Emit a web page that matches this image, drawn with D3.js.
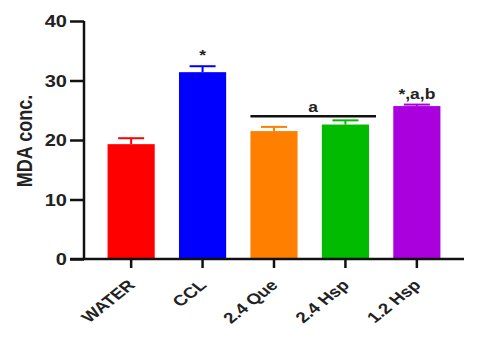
<!DOCTYPE html>
<html>
<head>
<meta charset="utf-8">
<script src="https://cdn.jsdelivr.net/npm/d3@7"></script>
<style>
  html, body { margin: 0; padding: 0; background: #fff; }
  svg { display: block; }
  text { font-family: "Liberation Sans", Arial, sans-serif; font-weight: bold; fill: #222; }
</style>
</head>
<body>
<svg id="chart" width="491" height="358"></svg>
<script>
// MDA concentration per treatment group (mean and upper SEM)
const groups = ["WATER", "CCL", "2.4 Que", "2.4 Hsp", "1.2 Hsp"];
const means = [19.3, 31.4, 21.5, 22.6, 25.7];
const sems = [1.0, 1.0, 0.7, 0.7, 0.25];
const colors = ["#ff0000", "#0000ff", "#ff8000", "#00bb00", "#aa00dd"];
const marks = ["", "*", "", "", "*,a,b"];
const yTicks = [0, 10, 20, 30, 40];

const svg = d3.select("#chart");
const plotLeft = 84, plotRight = 464, plotTop = 21, plotBottom = 259;
const wide = "scale(1.25,1)";   // text is drawn slightly widened

const x = d3.scaleBand().domain(groups).range([plotLeft, plotRight])
  .paddingInner(0.34).paddingOuter(0.33);
const y = d3.scaleLinear().domain([0, 40]).range([plotBottom, plotTop]);

// bars
svg.selectAll("rect.bar").data(groups).join("rect")
  .attr("class", "bar")
  .attr("x", d => x(d))
  .attr("width", x.bandwidth())
  .attr("y", (d, i) => y(means[i]))
  .attr("height", (d, i) => y(0) - y(means[i]))
  .attr("fill", (d, i) => colors[i]);

// upward error bars with significance marks
const capW = 26;
groups.forEach((g, i) => {
  const cx = x(g) + x.bandwidth() / 2;
  const yt = y(means[i] + sems[i]);
  svg.append("line")
    .attr("x1", cx).attr("x2", cx)
    .attr("y1", y(means[i])).attr("y2", yt)
    .attr("stroke", colors[i]).attr("stroke-width", 2);
  svg.append("line")
    .attr("x1", cx - capW / 2).attr("x2", cx + capW / 2)
    .attr("y1", yt).attr("y2", yt)
    .attr("stroke", colors[i]).attr("stroke-width", 2);
  if (marks[i]) {
    svg.append("text")
      .attr("transform", `translate(${cx},${yt - 6}) ${wide}`)
      .attr("text-anchor", "middle")
      .style("font-size", "14px")
      .text(marks[i]);
  }
});

// significance bracket over the two 2.4 mg groups
const bx1 = x("2.4 Que"), bx2 = x("2.4 Hsp") + x.bandwidth() + 7;
const by = y(24.0);
svg.append("line")
  .attr("x1", bx1).attr("x2", bx2).attr("y1", by).attr("y2", by)
  .attr("stroke", "#111").attr("stroke-width", 2.5);
svg.append("text")
  .attr("transform", `translate(${(bx1 + bx2) / 2},${by - 4}) ${wide}`)
  .attr("text-anchor", "middle")
  .style("font-size", "14px")
  .text("a");

// y axis
const yAxis = svg.append("g")
  .attr("transform", `translate(${plotLeft},0)`)
  .call(d3.axisLeft(y).tickValues(yTicks).tickSize(14));
yAxis.selectAll("text")
  .attr("x", 0)
  .attr("dy", "0.36em")
  .attr("transform", `translate(-17,0) ${wide}`)
  .style("font-size", "16px")
  .style("font-family", "'Liberation Sans', Arial, sans-serif");

// x axis
const xAxis = svg.append("g")
  .attr("transform", `translate(0,${plotBottom})`)
  .call(d3.axisBottom(x).tickSize(9).tickSizeOuter(0));
xAxis.selectAll("text")
  .attr("x", 0).attr("y", 0).attr("dy", 0)
  .attr("text-anchor", "end")
  .attr("transform", `translate(5,27) ${wide} rotate(-45)`)
  .style("font-size", "15px")
  .style("font-family", "'Liberation Sans', Arial, sans-serif");

[yAxis, xAxis].forEach(a => {
  a.select(".domain").attr("stroke", "#111").attr("stroke-width", 2.5);
  a.selectAll(".tick line").attr("stroke", "#111").attr("stroke-width", 2.5);
});
yAxis.select(".domain").attr("d", `M0,${plotTop}V${plotBottom}`);
xAxis.select(".domain").attr("d", `M${plotLeft - 14},0H${plotRight}`);

// y axis title
svg.append("text")
  .attr("transform", `translate(32,${(plotTop + plotBottom) / 2 + 1}) ${wide} rotate(-90)`)
  .attr("text-anchor", "middle")
  .style("font-size", "18px")
  .text("MDA conc.");
</script>
</body>
</html>
